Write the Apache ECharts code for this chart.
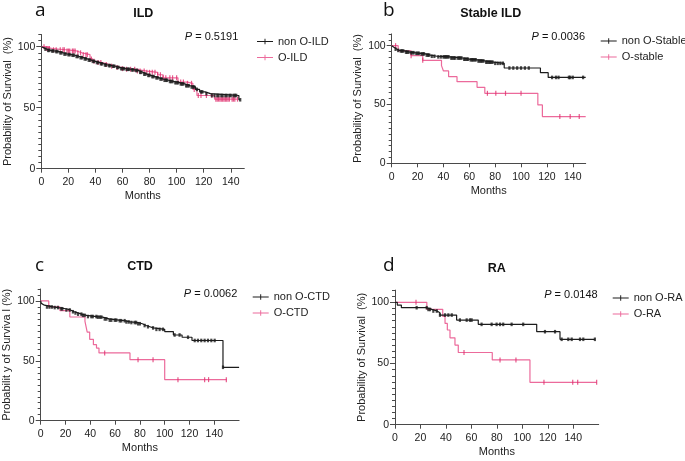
<!DOCTYPE html>
<html><head><meta charset="utf-8">
<script src="https://cdn.jsdelivr.net/npm/echarts@6/dist/echarts.min.js"></script>
<style>html,body{margin:0;padding:0;background:#fff}#c{width:685px;height:461px}</style>
</head><body><div id="c"></div>
<script>
// ---------- DATA (time in months, survival in %) ----------
const xTicks = [0, 20, 40, 60, 80, 100, 120, 140];
const yTicks = [0, 50, 100];

// a: ILD
const aNon = [[0,100],[1,99],[2,98],[4,97],[7,96.5],[10,96],[13,95],[16,94],[19,93.5],[22,93],[25,92],[28,91],[31,90],[34,89],[37,88],[40,87],[43,86],[46,85],[49,84.5],[52,84],[55,83],[58,82],[62,81.5],[66,81],[69,80.5],[72,79],[75,77.5],[78,76.5],[81,75.5],[84,74.5],[87,73.5],[90,72.5],[94,71.5],[98,70.5],[102,69.5],[106,68],[110,67],[114,65],[117,63],[121,61.5],[125,60],[146,56.5],[147,56.5]];
const aNonCens = [3,5,6,8,9,11,12,14,15,17,18,20,21,23,24,26,27,29,30,32,33,35,36,38,39,41,42,44,45,47,48,50,51,53,54,56,57,59,60,61,63,64,65,67,68,70,71,73,74,76,77,79,80,82,83,85,86,88,89,91,92,93,95,96,97,99,100,101,103,104,105,107,108,109,111,112,113,115,118,119,122,126,128,130,131,133,134,136,137,139,140,142,143,144,147];
const aO = [[0,100],[3,98.5],[8,97.5],[18,96.5],[26,95],[30,93.5],[36,90],[38,88],[41,87],[45,85.5],[50,84],[55,83],[59,82],[63,81.5],[70,80],[78,79],[86,77],[90,74.5],[101,71],[108,70],[112,65],[115,60],[128,57],[145,57]];
const aOCens = [2,4,5,6,9,11,14,16,17,19,20,21,23,24,25,27,29,31,33,34,37,39,42,44,48,52,56,60,63,66,69,71,73,76,78,80,82,84,86,88,90,92,95,97,100,103,105,108,111,113,116,118,122,126,129,130,131,132,133,134,135,136,137,138,139,141,142,143,145];

// b: Stable ILD
const bNon = [[0,100],[1,98.5],[2,97],[4,96],[6,95.5],[10,94.5],[14,94],[18,93.5],[22,93],[26,92],[30,91],[35,90.5],[45,89.5],[55,88.5],[60,88],[66,87],[72,86],[79,85],[87,81],[115,77],[121,73],[150,73]];
const bNonCens = [3,5,7,8,9,11,12,13,15,16,17,19,20,21,23,24,25,27,28,29,31,33,36,38,40,41,42,43,44,46,47,48,49,51,52,53,54,56,57,58,59,61,62,63,64,65,67,68,69,70,71,73,74,75,76,77,78,80,82,84,86,91,94,97,100,103,106,124,127,129,137,138,140,148];
const bO = [[0,100],[5,95.5],[15,91.5],[24,87.5],[38.5,83],[40,78.5],[44,73.6],[50.5,69.4],[66,64.6],[72,59.5],[113,49.6],[116.5,39.7],[150,39.7]];
const bOCens = [3,15,24,74,80.5,88,100,130,138,145];

// c: CTD
const cNon = [[0,100],[0.5,98],[1.5,96.5],[3,95],[10,94.5],[14,93.5],[20,92.5],[24,91],[27,90],[30,89],[33,88],[37,87],[45,86.5],[50,85],[55,84],[63,83.5],[68,82.5],[72,82],[78,81],[82,79.5],[85,78.5],[88,77.5],[91,76.3],[100,74.4],[107,71.6],[114,69.7],[122,67],[147,44.6],[160,44.6]];
const cNonCens = [5,7,9,11.3,13.9,16.6,17.5,20.7,23.4,26,28,30.1,32.8,34,35.5,38.1,40.8,42,44.9,46,47.6,49,51.6,53,55.6,57,59.7,61,63.7,65,67.7,69.1,71,73.1,75.8,77,78.5,80,83.8,86.5,90.6,93.3,95.9,98.6,108,112,118.8,124.2,126.8,129.5,132.2,134.9,137.6,140.3,147];
const cO = [[0,100],[6.5,95],[15.5,92],[23.5,86.6],[35.7,83],[36.5,79],[37.5,74],[39.5,68],[42.5,63.5],[45,60.7],[47,56.6],[72,51],[100,34.3],[150,34.3]];
const cOCens = [51.6,78.5,90.6,110.7,132.2,135.4,149.7];

// d: RA
const dNon = [[0,100],[1.8,97.8],[5,95.6],[25,94.2],[29,92.9],[33,91.5],[35.3,89.6],[48.4,85.5],[65.4,82],[111.3,76],[129.6,69.8],[157,69.8]];
const dNonCens = [17,24.9,26.2,27.5,30.1,32.8,35.3,39.3,41.9,44.6,51,56.3,58.9,60.2,68,75.9,79.8,82.5,85,91.6,100.7,117.8,125.7,130.9,136.1,138.8,145.3,147.9,157];
const dO = [[0,100],[25,94.3],[37.5,88.5],[39.3,82.8],[41.1,77.4],[43.2,71],[47.1,65.1],[49.7,59],[76.4,52.9],[106,34.6],[158.4,34.6]];
const dOCens = [16.5,54.2,82.5,95,117,139.6,143.5,158.4];

const pValues = ['0.5191', '0.0036', '0.0062', '0.0148'];
const panelTitles = ['ILD', 'Stable ILD', 'CTD', 'RA'];
const panelLetters = ['a', 'b', 'c', 'd'];
const legendNames = [['non O-ILD','O-ILD'],['non O-Stable','O-stable'],['non O-CTD','O-CTD'],['non O-RA','O-RA']];
const yNames = ['Probability of Survival  (%)','Probability of Survival  (%)','Probabilit y of Surviva l (%)','Probability of Survival  (%)'];
const xName = 'Months';

// ---------- LAYOUT ----------
const FONT = '"Liberation Sans", Arial, sans-serif';
const BLACK = '#1c1c1c', RED_LINE = '#ec6a9b', RED_MARK = '#e0306e';
const AXIS = '#4a4a4a';
const layout = [
  {grid:{left:41.3, top:34.5, width:203, height:134.2}, xmax:150, letter:[35,1], titleX:143.3, titleTop:7, pRight:446.7, pTop:31.5, legend:[257,36]},
  {grid:{left:391.7, top:33.9, width:194, height:129.4}, xmax:150, letter:[383,1], titleX:490.7, titleTop:7, pRight:100, pTop:31.5, legend:[600.7,35.5]},
  {grid:{left:40.7, top:289, width:198.4, height:131.7}, xmax:160, letter:[35,256], titleX:140, titleTop:260.5, pRight:447.7, pTop:288, legend:[252.7,291.5]},
  {grid:{left:395, top:290.1, width:203.7, height:134.6}, xmax:160, letter:[383,256], titleX:496.7, titleTop:262, pRight:87.3, pTop:289, legend:[612.7,292.5]}
];
const panels = [[aNon,aNonCens,aO,aOCens],[bNon,bNonCens,bO,bOCens],[cNon,cNonCens,cO,cOCens],[dNon,dNonCens,dO,dOCens]];

function survAt(steps, t) {
  let s = steps[0][1];
  for (const p of steps) { if (p[0] <= t) s = p[1]; else break; }
  return s;
}
const legendIcon = 'path://M0,40h200v12h-200z M94,10h12v70h-12z';

const option = {animation:false, backgroundColor:'#fff', grid:[], xAxis:[], yAxis:[], series:[], title:[], legend:[]};

layout.forEach((L, i) => {
  option.grid.push(Object.assign({containLabel:false}, L.grid));
  option.xAxis.push({
    type:'value', gridIndex:i, min:0, max:L.xmax, interval:20,
    name:xName, nameLocation:'middle', nameGap:22,
    nameTextStyle:{fontFamily:FONT, fontSize:11, color:'#222'},
    axisLine:{show:true, lineStyle:{color:AXIS, width:1}},
    axisTick:{show:true, length:4, lineStyle:{color:AXIS}, customValues:xTicks},
    axisLabel:{fontFamily:FONT, fontSize:10.5, color:'#222', margin:8, customValues:xTicks},
    splitLine:{show:false}
  });
  option.yAxis.push({
    type:'value', gridIndex:i, min:0, max:110, interval:50, position:'left',
    name:yNames[i], nameLocation:'middle', nameGap:28,
    nameTextStyle:{fontFamily:FONT, fontSize:11, color:'#222'},
    axisLine:{show:true, lineStyle:{color:AXIS, width:1}},
    axisTick:{show:true, length:5, lineStyle:{color:AXIS}, customValues:yTicks},
    axisLabel:{fontFamily:FONT, fontSize:10.5, color:'#222', margin:6, customValues:yTicks},
    splitLine:{show:false}
  });
  option.yAxis.push({
    type:'value', gridIndex:i, min:0, max:110, interval:5, position:'left',
    axisLine:{show:false},
    axisTick:{show:true, length:3, lineStyle:{color:AXIS}},
    axisLabel:{show:false}, splitLine:{show:false}
  });
  const [nonS, nonC, oS, oC] = panels[i];
  const [nName, oName] = legendNames[i];
  const yi = i * 2;
  option.series.push({
    type:'line', name:oName, xAxisIndex:i, yAxisIndex:yi, step:'end', data:oS,
    symbol:'none', color:RED_LINE, lineStyle:{color:RED_LINE, width:1.2}, z:2
  });
  option.series.push({
    type:'scatter', name:oName, xAxisIndex:i, yAxisIndex:yi,
    data:oC.map(t => [t, survAt(oS, t)]), symbol:'rect', symbolSize:[1.2,5],
    itemStyle:{color:RED_MARK}, z:3, silent:true
  });
  option.series.push({
    type:'line', name:nName, xAxisIndex:i, yAxisIndex:yi, step:'end', data:nonS,
    symbol:'none', color:BLACK, lineStyle:{color:BLACK, width:1.2}, z:4
  });
  option.series.push({
    type:'scatter', name:nName, xAxisIndex:i, yAxisIndex:yi,
    data:nonC.map(t => [t, survAt(nonS, t)]), symbol:'rect', symbolSize:[2.2,3.6],
    itemStyle:{color:BLACK}, z:5, silent:true
  });
  option.title.push({
    text:panelLetters[i], left:L.letter[0], top:L.letter[1], padding:0,
    textStyle:{fontFamily:'"Open Sans", sans-serif', fontSize:19, fontWeight:'normal', color:'#111'}
  });
  option.title.push({
    text:panelTitles[i], left:L.titleX, top:L.titleTop, textAlign:'center', padding:0,
    textStyle:{fontFamily:FONT, fontSize:12.5, fontWeight:'bold', color:'#111'}
  });
  option.title.push({
    text:'{i|P} = ' + pValues[i], right:L.pRight, top:L.pTop, padding:0,
    textStyle:{fontFamily:FONT, fontSize:11, fontWeight:'normal', color:'#111',
      rich:{i:{fontFamily:FONT, fontSize:11, fontStyle:'italic', color:'#111'}}}
  });
  option.legend.push({
    left:L.legend[0], top:L.legend[1], orient:'vertical', padding:0,
    itemWidth:16, itemHeight:7, itemGap:5,
    textStyle:{fontFamily:FONT, fontSize:11, color:'#222'},
    data:[{name:nName, icon:legendIcon}, {name:oName, icon:legendIcon}]
  });
});

const chart = echarts.init(document.getElementById('c'), null, {renderer:'canvas'});
chart.setOption(option);
</script>
</body></html>
